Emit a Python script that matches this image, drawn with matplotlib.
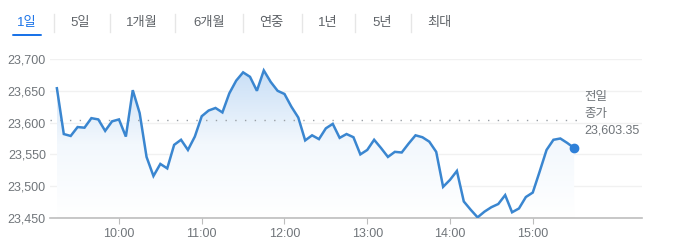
#!/usr/bin/env python3
"""Intraday index chart (1일 view) with previous-close reference line."""

import numpy as np
import matplotlib.pyplot as plt
from matplotlib.colors import LinearSegmentedColormap
from matplotlib.patches import FancyBboxPatch

FONT = ["Liberation Sans", "Noto Sans CJK KR", "DejaVu Sans"]
plt.rcParams["font.family"] = FONT

# 5-minute prices, 9:15 .. 15:30
PRICES = [
    23654, 23582, 23579, 23593, 23592, 23607, 23605, 23587, 23602, 23605,
    23578, 23651, 23615, 23546, 23516, 23535, 23528, 23565, 23573, 23557,
    23578, 23610, 23619, 23623, 23616, 23646, 23666, 23679, 23672, 23650,
    23682, 23664, 23650, 23645, 23625, 23608, 23572, 23580, 23574, 23591,
    23598, 23576, 23582, 23577, 23550, 23557, 23573, 23560, 23546, 23554,
    23553, 23567, 23580, 23577, 23570, 23554, 23499, 23510, 23524, 23476,
    23463, 23451, 23460, 23467, 23472, 23486, 23459, 23465, 23483, 23490,
    23523, 23557, 23573, 23575, 23568, 23560,
]
START_HOUR = 9.25
STEP_HOURS = 5 / 60
PREV_CLOSE = 23603.35

Y_TICKS = [23450, 23500, 23550, 23600, 23650, 23700]
X_TICKS = [10, 11, 12, 13, 14, 15]
X_LABELS = ["10:00", "11:00", "12:00", "13:00", "14:00", "15:00"]
TABS = ["1일", "5일", "1개월", "6개월", "연중", "1년", "5년", "최대"]

LINE = "#3a86d0"
GREY_TXT = "#70757a"

times = START_HOUR + STEP_HOURS * np.arange(len(PRICES))
prices = np.array(PRICES, dtype=float)

fig = plt.figure(figsize=(6.8, 2.52), dpi=100)
ax = fig.add_axes([50 / 680, 34 / 252, 592 / 680, 159 / 252])
ax.set_xlim(9 + 10 / 60, 16.32)
ax.set_ylim(23450, 23700)

# gradient fill under the line
cmap = LinearSegmentedColormap.from_list("fade", ["#ffffff", "#f3f8fd", "#c9dff6"])
grad = np.linspace(0, 1, 256).reshape(-1, 1)
img = ax.imshow(grad, cmap=cmap, aspect="auto", origin="lower",
                extent=[times[0], times[-1], 23450, prices.max()], zorder=1)
poly = ax.fill_between(times, prices, 23450, color="none", lw=0)
img.set_clip_path(poly.get_paths()[0], transform=ax.transData)

ax.plot(times, prices, color=LINE, lw=1.8, zorder=3, solid_joinstyle="miter")
ax.plot(times[-1], prices[-1], "o", color="#2f80d8", ms=6, zorder=4)

ax.plot([ax.get_xlim()[0], 15.55], [PREV_CLOSE, PREV_CLOSE], color="#9aa0a6",
        lw=1, ls=(0, (1, 6)), zorder=2)

for y in Y_TICKS[1:]:
    ax.axhline(y, color="#f1f1f1", lw=1, zorder=0)

ax.set_yticks(Y_TICKS)
ax.set_yticklabels([f"{v:,}" for v in Y_TICKS], color=GREY_TXT, fontsize=9)
ax.set_xticks(X_TICKS)
ax.set_xticklabels(X_LABELS, color=GREY_TXT, fontsize=9)
ax.tick_params(axis="y", length=0, pad=3)
ax.tick_params(axis="x", length=4, color="#bdbdbd", pad=3)
for side in ["top", "right", "left"]:
    ax.spines[side].set_visible(False)
ax.spines["bottom"].set_color("#bdbdbd")
ax.spines["bottom"].set_linewidth(1.2)

ax.text(15.62, 23640, "전일", color=GREY_TXT, fontsize=9, va="center")
ax.text(15.62, 23614, "종가", color=GREY_TXT, fontsize=9, va="center")
ax.text(15.62, 23588, f"{PREV_CLOSE:,.2f}", color=GREY_TXT, fontsize=9, va="center")

# range tabs along the top
tab_x = [27, 80, 142, 209, 271, 328, 382, 439]
sep_x = [54, 110, 175, 243, 302, 355, 411]
for i, (label, x) in enumerate(zip(TABS, tab_x)):
    fig.text(x / 680, 1 - 23 / 252, label, ha="center", va="center", fontsize=9.5,
             color="#1a73e8" if i == 0 else "#5f6368")
for x in sep_x:
    fig.add_artist(plt.Line2D([x / 680, x / 680], [1 - 14 / 252, 1 - 32 / 252],
                              color="#e6e6e6", lw=1))
fig.add_artist(FancyBboxPatch((12 / 680, 1 - 36 / 252), 30 / 680, 2 / 252,
                              boxstyle="round,pad=0,rounding_size=0.003",
                              color="#1a73e8", lw=0, transform=fig.transFigure))

fig.savefig("out.png", dpi=100)
